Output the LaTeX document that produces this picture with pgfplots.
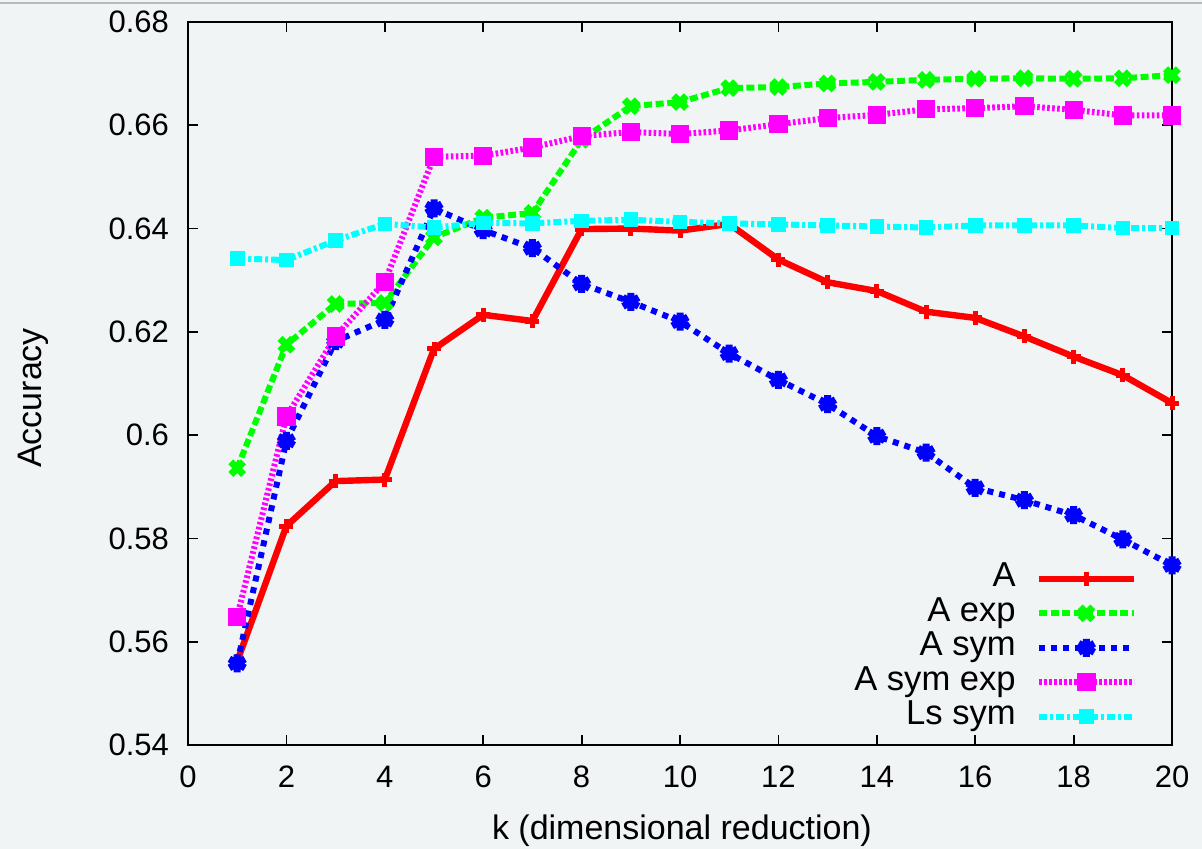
\documentclass[border=0pt]{standalone}
\usepackage{pgfplots}
\pgfplotsset{compat=1.18}
\usepackage{fontspec}
\setmainfont{Liberation Sans}
\definecolor{bgc}{HTML}{F0F4F5}
\definecolor{gpred}{RGB}{255,0,0}
\definecolor{gpgreen}{RGB}{0,255,0}
\definecolor{gpblue}{RGB}{0,0,255}
\definecolor{gpmag}{RGB}{255,0,255}
\definecolor{gpcyan}{RGB}{0,255,255}
\begin{document}
\begin{tikzpicture}
\fill[bgc] (-94pt,-52pt) rectangle (507pt,372.5pt);
\useasboundingbox (-94pt,-52pt) rectangle (507pt,372.5pt);
\draw[color=black!27,line width=0.9pt] (-94pt,370.8pt) -- (507pt,370.8pt);
\begin{axis}[
  scale only axis,
  width=492pt, height=361.5pt,
  xmin=0, xmax=20, ymin=0.54, ymax=0.68,
  xtick={0,2,...,20},
  ytick={0.54,0.56,0.58,0.6,0.62,0.64,0.66,0.68},
  scaled y ticks=false,
  yticklabel style={/pgf/number format/fixed},
  /pgf/number format/assume math mode=true,
  tick align=inside,
  major tick length=5pt,
  axis line style={line width=1pt},
  every tick/.style={black,line width=0.9pt},
  tick label style={font=\fontsize{15.5}{18}\selectfont},
  xticklabel style={yshift=-7pt},
  yticklabel style={xshift=-6pt},
  xlabel={k (dimensional reduction)},
  ylabel={Accuracy},
  every axis x label/.style={at={(axis description cs:0.502,-0.118)},anchor=center,font=\fontsize{17}{20}\selectfont},
  every axis y label/.style={at={(axis description cs:-0.157,0.48)},anchor=center,rotate=90,font=\fontsize{17}{20}\selectfont},
  clip=false,
  legend plot pos=right,
  legend cell align=right,
  legend style={at={(rel axis cs:0.9650,0.0166)},anchor=south east,draw=none,fill=none,inner sep=0pt,
    font=\fontsize{17.3}{20}\selectfont,row sep=1.2pt,column sep=10pt,
    nodes={inner sep=0pt,text height=12pt,text depth=4pt}},
  legend image code/.code={\draw[mark repeat=2,mark phase=2] plot coordinates {(0pt,0pt) (23.75pt,0pt) (47.5pt,0pt)};},
]
\addplot[color=gpred,line width=3.2pt,mark=+,mark size=3.5pt,mark options={solid,line width=2.5pt}] coordinates {
(1,0.5562) (2,0.5824) (3,0.5911) (4,0.5914) (5,0.6167) (6,0.6233) (7,0.6221) (8,0.6399) (9,0.6400) (10,0.6396)
(11,0.6409) (12,0.6340) (13,0.6296) (14,0.6279) (15,0.6239) (16,0.6227) (17,0.6191) (18,0.6152) (19,0.6116) (20,0.6062)};
\addlegendentry{A}
\addplot[color=gpgreen,line width=3pt,dash pattern=on 4pt off 1.8pt,mark=x,mark size=4.5pt,mark options={solid,line width=3.5pt}] coordinates {
(1,0.5936) (2,0.6175) (3,0.6254) (4,0.6256) (5,0.6383) (6,0.6421) (7,0.6430) (8,0.6572) (9,0.6637) (10,0.6645)
(11,0.6672) (12,0.6674) (13,0.6681) (14,0.6684) (15,0.6688) (16,0.6690) (17,0.6691) (18,0.6690) (19,0.6691) (20,0.6697)};
\addlegendentry{A exp}
\addplot[color=gpblue,line width=3pt,dash pattern=on 3pt off 3pt,mark=asterisk,mark size=4.5pt,mark options={solid,line width=3.5pt}] coordinates {
(1,0.5558) (2,0.5989) (3,0.6182) (4,0.6223) (5,0.6439) (6,0.6397) (7,0.6362) (8,0.6293) (9,0.6258) (10,0.6220)
(11,0.6158) (12,0.6107) (13,0.6060) (14,0.5998) (15,0.5966) (16,0.5898) (17,0.5874) (18,0.5845) (19,0.5798) (20,0.5748)};
\addlegendentry{A sym}
\addplot[color=gpmag,line width=3pt,dash pattern=on 1.3pt off 1.2pt,mark=square*,mark size=4.3pt,mark options={solid,fill=gpmag,line width=0.5pt}] coordinates {
(1,0.5648) (2,0.6036) (3,0.6191) (4,0.6297) (5,0.6539) (6,0.6541) (7,0.6557) (8,0.6579) (9,0.6587) (10,0.6583)
(11,0.6590) (12,0.6602) (13,0.6614) (14,0.6620) (15,0.6631) (16,0.6633) (17,0.6637) (18,0.6630) (19,0.6619) (20,0.6619)};
\addlegendentry{A sym exp}
\addplot[color=gpcyan,line width=3pt,dash pattern=on 4pt off 1.5pt on 1.5pt off 1.5pt,mark=square*,mark size=3.4pt,mark options={solid,fill=gpcyan,line width=0.5pt}] coordinates {
(1,0.6342) (2,0.6339) (3,0.6377) (4,0.6409) (5,0.6402) (6,0.6411) (7,0.6410) (8,0.6415) (9,0.6417) (10,0.6413)
(11,0.6410) (12,0.6408) (13,0.6406) (14,0.6404) (15,0.6402) (16,0.6406) (17,0.6406) (18,0.6406) (19,0.6401) (20,0.6401)};
\addlegendentry{Ls sym}
\end{axis}
\end{tikzpicture}
\end{document}
